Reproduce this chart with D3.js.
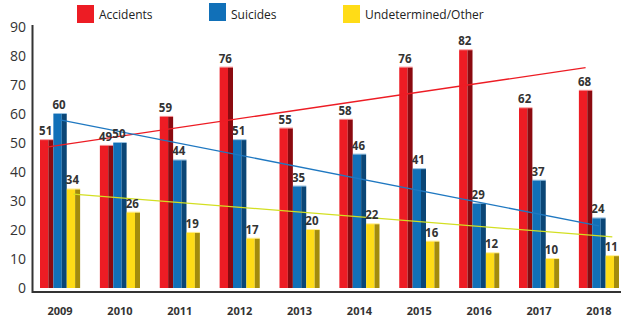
<!DOCTYPE html>
<html>
<head>
<meta charset="utf-8">
<script src="https://cdn.jsdelivr.net/npm/d3@7"></script>
<style>
  body { margin: 0; background: #fff; }
  svg { display: block; font-family: "Open Sans", "Liberation Sans", sans-serif; }
</style>
</head>
<body>
<div id="chart"></div>
<script>
const years = ["2009", "2010", "2011", "2012", "2013", "2014", "2015", "2016", "2017", "2018"];
const accidents = [51, 49, 59, 76, 55, 58, 76, 82, 62, 68];
const suicides = [60, 50, 44, 51, 35, 46, 41, 29, 37, 24];
const undetermined = [34, 26, 19, 17, 20, 22, 16, 12, 10, 11];
// trend line values at first and last year
const trendAccidents = [48.6, 76];
const trendSuicides = [58, 21.4];
const trendUndetermined = [32.4, 17.6];
const yTicks = [0, 10, 20, 30, 40, 50, 60, 70, 80, 90];
const seriesNames = ["Accidents", "Suicides", "Undetermined/Other"];

const width = 628, height = 318;

const series = [
    { name: seriesNames[0], values: accidents, trend: trendAccidents, front: "#ed1c24", side: "#8b0a10", line: "#ed1c24" },
    { name: seriesNames[1], values: suicides, trend: trendSuicides, front: "#1170b8", side: "#0b4676", line: "#1f78c1" },
    { name: seriesNames[2], values: undetermined, trend: trendUndetermined, front: "#ffdc17", side: "#a38b0c", line: "#d3df22" }
];

const svg = d3.select("#chart").append("svg")
    .attr("width", width)
    .attr("height", height);

const x = d3.scaleBand()
    .domain(years)
    .range([40, 619])
    .paddingInner(0.33)
    .paddingOuter(0);

const xs = d3.scaleBand()
    .domain(d3.range(series.length))
    .range([0, x.bandwidth()]);

const y = d3.scaleLinear()
    .domain([0, 90])
    .range([288, 27]);

// y tick labels
svg.append("g")
    .selectAll("text")
    .data(yTicks)
    .enter()
    .append("text")
    .attr("x", 26)
    .attr("y", d => y(d))
    .attr("dy", "0.35em")
    .attr("text-anchor", "end")
    .style("font-size", "14px")
    .style("fill", "#333")
    .text(d => d);

// bars
const sideW = 5;
series.forEach((s, si) => {
    const g = svg.append("g").attr("class", "bars-" + si);
    const bw = xs.bandwidth();
    g.selectAll(".front")
        .data(s.values)
        .enter()
        .append("rect")
        .attr("x", (d, i) => x(years[i]) + xs(si))
        .attr("y", d => y(d))
        .attr("width", bw - sideW)
        .attr("height", d => y(0) - y(d))
        .attr("fill", s.front);
    g.selectAll(".side")
        .data(s.values)
        .enter()
        .append("rect")
        .attr("x", (d, i) => x(years[i]) + xs(si) + bw - sideW)
        .attr("y", d => y(d))
        .attr("width", sideW)
        .attr("height", d => y(0) - y(d))
        .attr("fill", s.side);
    // thin top cap
    g.selectAll(".cap")
        .data(s.values)
        .enter()
        .append("rect")
        .attr("x", (d, i) => x(years[i]) + xs(si))
        .attr("y", d => y(d) - 1)
        .attr("width", bw)
        .attr("height", 1.2)
        .attr("fill", s.front)
        .attr("opacity", 0.45);
});

// trend lines
series.forEach((s, si) => {
    const cx = yr => x(yr) + xs(si) + xs.bandwidth() / 2;
    svg.append("line")
        .attr("x1", cx(years[0]))
        .attr("y1", y(s.trend[0]))
        .attr("x2", cx(years[years.length - 1]))
        .attr("y2", y(s.trend[1]))
        .attr("stroke", s.line)
        .attr("stroke-width", 1.3);
});

// value labels
series.forEach((s, si) => {
    svg.append("g")
        .selectAll("text")
        .data(s.values)
        .enter()
        .append("text")
        .attr("x", (d, i) => x(years[i]) + xs(si) + xs.bandwidth() / 2 - 1)
        .attr("y", d => y(d) - 5)
        .attr("text-anchor", "middle")
        .style("font-size", "11.5px")
        .style("font-weight", "bold")
        .style("fill", "#333")
        .text(d => d);
});

// axes lines
svg.append("line")
    .attr("x1", 32.5).attr("x2", 32.5)
    .attr("y1", 25).attr("y2", 293)
    .attr("stroke", "#333").attr("stroke-width", 2);
svg.append("line")
    .attr("x1", 32).attr("x2", 621)
    .attr("y1", 292).attr("y2", 292)
    .attr("stroke", "#333").attr("stroke-width", 2);

// x labels
svg.append("g")
    .selectAll("text")
    .data(years)
    .enter()
    .append("text")
    .attr("x", d => x(d) + x.bandwidth() / 2)
    .attr("y", 315)
    .attr("text-anchor", "middle")
    .style("font-size", "11px")
    .style("font-weight", "bold")
    .style("fill", "#333")
    .text(d => d);

// legend
const legendX = [77, 209, 343];
const legendY = [5, 3, 5];
series.forEach((s, si) => {
    svg.append("rect")
        .attr("x", legendX[si])
        .attr("y", legendY[si])
        .attr("width", 17)
        .attr("height", 18)
        .attr("fill", s.front);
    svg.append("text")
        .attr("x", legendX[si] + 22)
        .attr("y", 19)
        .style("font-size", "12px")
        .style("fill", "#222")
        .text(s.name);
});
</script>
</body>
</html>
